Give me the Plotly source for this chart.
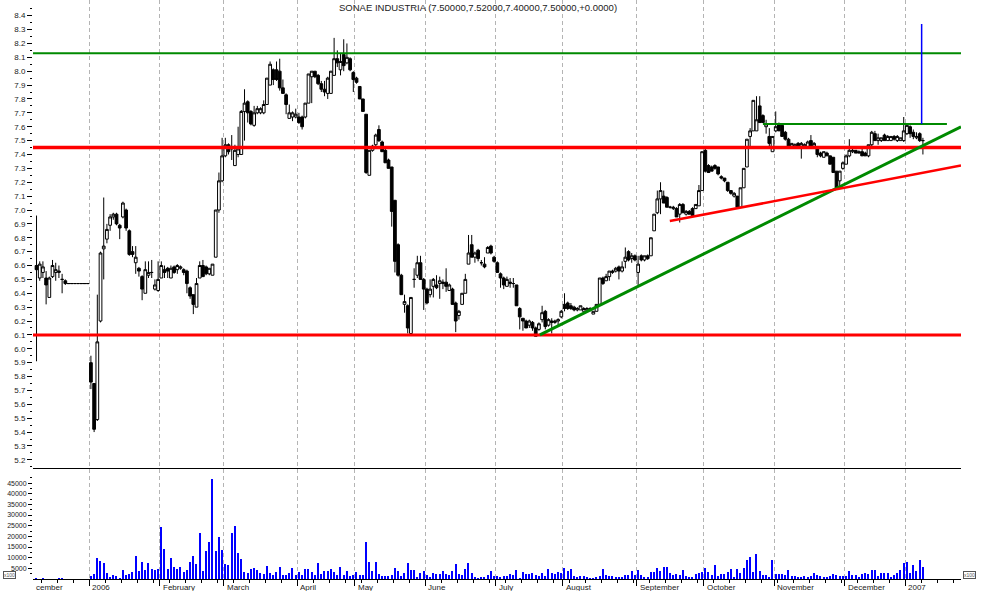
import plotly.graph_objects as go

# ---------------- data ----------------
month_labels = ["cember", "2006", "February", "March", "April", "May", "June",
                "July", "August", "September", "October", "November", "December", "2007"]
month_days = [17, 22, 20, 23, 18, 22, 22, 21, 23, 21, 22, 22, 19, 6]

open_ = [
    # Dec 2005
    6.60, 6.51, 6.55, 6.51, 6.37, 6.52, 6.55, 6.55, 6.50, 6.49, 6.47, 6.47, 6.47, 6.47, 6.47, 6.47, 6.47,
    # Jan
    5.90, 5.75, 5.49, 6.20, 6.72, 6.79, 6.89, 6.95, 6.97, 6.89, 6.95, 7.00, 6.85, 6.70, 6.62, 6.58, 6.52, 6.40, 6.53, 6.55, 6.43, 6.42,
    # Feb
    6.51, 6.57, 6.58, 6.51, 6.59, 6.57, 6.58, 6.57, 6.56, 6.44, 6.39, 6.30, 6.51, 6.60, 6.59, 6.54, 6.53, 6.66, 7.00, 7.21,
    # Mar
    7.39, 7.47, 7.44, 7.32, 7.40, 7.40, 7.71, 7.78, 7.71, 7.61, 7.70, 7.70, 7.70, 7.76, 7.90, 8.01, 8.01, 8.00, 7.88, 7.83, 7.66, 7.67, 7.67,
    # Apr
    7.67, 7.67, 7.67, 7.77, 7.96, 8.00, 7.97, 7.91, 7.87, 7.84, 7.84, 7.97, 8.09, 8.01, 8.12, 8.06, 8.09, 7.99,
    # May
    7.95, 7.89, 7.80, 7.69, 7.25, 7.43, 7.47, 7.58, 7.49, 7.43, 7.36, 7.31, 7.07, 6.75, 6.53, 6.32, 6.31, 6.11, 6.50, 6.53, 6.62, 6.50,
    # Jun
    6.43, 6.39, 6.45, 6.46, 6.47, 6.47, 6.48, 6.42, 6.43, 6.33, 6.24, 6.32, 6.40, 6.61, 6.75, 6.66, 6.71, 6.62, 6.61, 6.69, 6.74, 6.66,
    # Jul
    6.62, 6.54, 6.51, 6.45, 6.47, 6.47, 6.46, 6.29, 6.22, 6.20, 6.17, 6.19, 6.15, 6.14, 6.21, 6.27, 6.17, 6.20, 6.19, 6.20, 6.23,
    # Aug
    6.32, 6.33, 6.31, 6.30, 6.28, 6.28, 6.27, 6.28, 6.28, 6.25, 6.27, 6.32, 6.51, 6.49, 6.52, 6.55, 6.56, 6.59, 6.56, 6.63, 6.70, 6.65, 6.67,
    # Sep
    6.55, 6.67, 6.64, 6.67, 6.67, 6.85, 6.98, 7.08, 7.10, 7.09, 7.02, 7.01, 7.01, 6.97, 7.04, 6.97, 6.99, 7.01, 7.01, 7.03, 7.14,
    # Oct
    7.43, 7.32, 7.31, 7.32, 7.31, 7.24, 7.23, 7.20, 7.14, 7.10, 7.10, 7.02, 7.16, 7.31, 7.53, 7.57, 7.57, 7.75, 7.68, 7.60, 7.53, 7.42,
    # Nov
    7.57, 7.62, 7.61, 7.56, 7.51, 7.46, 7.46, 7.48, 7.46, 7.46, 7.45, 7.50, 7.46, 7.45, 7.41, 7.38, 7.41, 7.39, 7.38, 7.28, 7.21, 7.30,
    # Dec
    7.33, 7.39, 7.42, 7.43, 7.42, 7.42, 7.41, 7.39, 7.47, 7.55, 7.50, 7.50, 7.54, 7.50, 7.50, 7.53, 7.50, 7.50, 7.50,
    # Jan 2007
    7.55, 7.60, 7.56, 7.52, 7.55, 7.50,
]

high = [
    6.96, 6.63, 6.63, 6.56, 6.52, 6.64, 6.62, 6.60, 6.54, 6.50, 6.47, 6.47, 6.47, 6.47, 6.47, 6.47, 6.47,
    5.95, 5.75, 6.39, 6.70, 7.09, 6.90, 6.97, 6.98, 6.98, 6.90, 7.06, 7.01, 6.86, 6.74, 6.74, 6.59, 6.53, 6.63, 6.63, 6.64, 6.50, 6.63,
    6.63, 6.60, 6.59, 6.60, 6.60, 6.61, 6.60, 6.58, 6.57, 6.45, 6.39, 6.51, 6.63, 6.64, 6.60, 6.58, 6.61, 7.00, 7.27, 7.52,
    7.52, 7.48, 7.54, 7.47, 7.60, 7.72, 7.87, 7.79, 7.72, 7.75, 7.75, 7.74, 7.79, 7.95, 8.07, 8.02, 8.07, 8.09, 7.94, 7.84, 7.76, 7.71, 7.73,
    7.70, 7.68, 7.77, 7.98, 8.00, 8.00, 7.98, 7.93, 7.93, 7.96, 8.00, 8.24, 8.15, 8.13, 8.23, 8.20, 8.10, 8.00,
    7.96, 7.89, 7.80, 7.69, 7.43, 7.47, 7.55, 7.61, 7.50, 7.44, 7.37, 7.31, 7.07, 6.76, 6.54, 6.39, 6.32, 6.37, 6.58, 6.67, 6.67, 6.51,
    6.44, 6.50, 6.51, 6.53, 6.52, 6.50, 6.58, 6.47, 6.44, 6.34, 6.28, 6.40, 6.54, 6.82, 6.82, 6.70, 6.72, 6.64, 6.66, 6.74, 6.75, 6.67,
    6.63, 6.55, 6.52, 6.52, 6.51, 6.51, 6.46, 6.30, 6.22, 6.21, 6.21, 6.20, 6.16, 6.19, 6.31, 6.28, 6.22, 6.22, 6.21, 6.22, 6.28,
    6.40, 6.34, 6.33, 6.31, 6.30, 6.31, 6.30, 6.30, 6.30, 6.27, 6.32, 6.51, 6.52, 6.54, 6.56, 6.57, 6.59, 6.60, 6.63, 6.73, 6.71, 6.69, 6.68,
    6.67, 6.68, 6.67, 6.68, 6.80, 6.97, 7.14, 7.20, 7.14, 7.10, 7.03, 7.03, 7.02, 7.05, 7.05, 7.00, 7.00, 7.02, 7.04, 7.18, 7.42,
    7.46, 7.33, 7.32, 7.33, 7.31, 7.25, 7.23, 7.20, 7.14, 7.13, 7.10, 7.16, 7.30, 7.51, 7.59, 7.79, 7.82, 7.82, 7.69, 7.65, 7.59, 7.53,
    7.71, 7.63, 7.62, 7.57, 7.52, 7.48, 7.48, 7.49, 7.49, 7.48, 7.50, 7.54, 7.49, 7.45, 7.42, 7.42, 7.42, 7.39, 7.38, 7.28, 7.28, 7.35,
    7.40, 7.51, 7.45, 7.43, 7.43, 7.44, 7.42, 7.47, 7.57, 7.57, 7.55, 7.52, 7.55, 7.54, 7.53, 7.54, 7.54, 7.52, 7.67,
    7.62, 7.61, 7.58, 7.56, 7.56, 7.52,
]

low = [
    5.91, 6.49, 6.51, 6.32, 6.37, 6.51, 6.49, 6.51, 6.40, 6.46, 6.47, 6.47, 6.47, 6.47, 6.47, 6.47, 6.47,
    5.71, 5.40, 5.48, 6.19, 6.50, 6.76, 6.85, 6.93, 6.89, 6.79, 6.94, 6.85, 6.67, 6.66, 6.54, 6.52, 6.35, 6.40, 6.51, 6.51, 6.42, 6.41,
    6.51, 6.51, 6.51, 6.51, 6.54, 6.54, 6.57, 6.53, 6.40, 6.36, 6.25, 6.30, 6.51, 6.52, 6.53, 6.53, 6.53, 6.66, 6.98, 7.20,
    7.38, 7.40, 7.36, 7.32, 7.38, 7.40, 7.50, 7.63, 7.61, 7.60, 7.69, 7.69, 7.69, 7.76, 7.90, 7.90, 7.93, 7.86, 7.84, 7.69, 7.66, 7.64, 7.66,
    7.62, 7.58, 7.66, 7.77, 7.77, 7.95, 7.90, 7.85, 7.82, 7.80, 7.84, 7.97, 8.03, 7.97, 8.00, 8.05, 8.00, 7.85,
    7.91, 7.80, 7.71, 7.26, 7.25, 7.42, 7.46, 7.49, 7.42, 7.34, 7.30, 6.88, 6.55, 6.52, 6.39, 6.26, 6.11, 6.10, 6.44, 6.51, 6.50, 6.28,
    6.32, 6.37, 6.37, 6.43, 6.36, 6.43, 6.41, 6.42, 6.32, 6.12, 6.21, 6.32, 6.40, 6.61, 6.66, 6.62, 6.63, 6.60, 6.58, 6.69, 6.68, 6.62,
    6.55, 6.44, 6.43, 6.45, 6.44, 6.44, 6.31, 6.14, 6.13, 6.15, 6.15, 6.13, 6.09, 6.13, 6.19, 6.14, 6.16, 6.11, 6.18, 6.17, 6.22,
    6.27, 6.28, 6.28, 6.27, 6.27, 6.28, 6.27, 6.27, 6.27, 6.25, 6.27, 6.32, 6.46, 6.49, 6.49, 6.54, 6.55, 6.50, 6.55, 6.58, 6.63, 6.62, 6.63,
    6.46, 6.63, 6.63, 6.64, 6.67, 6.85, 6.97, 6.97, 7.05, 7.02, 7.01, 7.00, 6.95, 6.91, 6.98, 6.96, 6.97, 6.96, 7.01, 7.03, 7.14,
    7.27, 7.27, 7.28, 7.29, 7.25, 7.22, 7.20, 7.13, 7.11, 7.09, 7.02, 7.02, 7.16, 7.31, 7.45, 7.57, 7.57, 7.63, 7.63, 7.55, 7.46, 7.42,
    7.56, 7.57, 7.53, 7.50, 7.46, 7.45, 7.45, 7.45, 7.37, 7.45, 7.44, 7.44, 7.45, 7.38, 7.38, 7.38, 7.39, 7.33, 7.27, 7.16, 7.16, 7.29,
    7.33, 7.38, 7.41, 7.41, 7.41, 7.39, 7.39, 7.38, 7.46, 7.50, 7.47, 7.49, 7.50, 7.50, 7.50, 7.50, 7.49, 7.50, 7.49,
    7.54, 7.52, 7.51, 7.51, 7.49, 7.40,
]

close = [
    6.57, 6.61, 6.59, 6.46, 6.51, 6.60, 6.57, 6.56, 6.50, 6.47, 6.47, 6.47, 6.47, 6.47, 6.47, 6.47, 6.47,
    5.76, 5.42, 6.05, 6.69, 6.74, 6.86, 6.95, 6.97, 6.90, 6.87, 7.05, 6.87, 6.68, 6.68, 6.66, 6.56, 6.43, 6.57, 6.55, 6.55, 6.46, 6.50,
    6.60, 6.55, 6.56, 6.58, 6.55, 6.60, 6.59, 6.55, 6.47, 6.38, 6.32, 6.47, 6.60, 6.52, 6.54, 6.58, 6.61, 7.00, 7.21, 7.39,
    7.47, 7.42, 7.45, 7.43, 7.44, 7.71, 7.77, 7.70, 7.62, 7.70, 7.73, 7.73, 7.76, 7.95, 8.05, 7.94, 7.94, 7.88, 7.84, 7.76, 7.70, 7.70, 7.69,
    7.63, 7.60, 7.77, 7.98, 8.00, 7.96, 7.91, 7.87, 7.85, 7.95, 8.00, 8.09, 8.06, 8.07, 8.04, 8.10, 8.01, 7.94,
    7.92, 7.80, 7.71, 7.27, 7.43, 7.46, 7.54, 7.50, 7.42, 7.34, 7.30, 6.99, 6.63, 6.53, 6.39, 6.34, 6.15, 6.37, 6.50, 6.62, 6.50, 6.43,
    6.33, 6.43, 6.50, 6.44, 6.49, 6.48, 6.45, 6.46, 6.32, 6.20, 6.27, 6.40, 6.50, 6.69, 6.66, 6.69, 6.65, 6.62, 6.59, 6.73, 6.69, 6.63,
    6.55, 6.51, 6.46, 6.50, 6.48, 6.47, 6.31, 6.23, 6.20, 6.15, 6.20, 6.15, 6.09, 6.18, 6.26, 6.16, 6.21, 6.19, 6.20, 6.21, 6.27,
    6.29, 6.29, 6.29, 6.28, 6.29, 6.31, 6.29, 6.29, 6.29, 6.27, 6.32, 6.51, 6.47, 6.52, 6.56, 6.56, 6.58, 6.56, 6.59, 6.66, 6.64, 6.67, 6.64,
    6.61, 6.64, 6.67, 6.65, 6.80, 6.97, 7.08, 7.14, 7.05, 7.02, 7.02, 7.02, 6.95, 7.04, 6.98, 6.99, 6.97, 6.96, 7.04, 7.14, 7.42,
    7.28, 7.27, 7.28, 7.30, 7.26, 7.23, 7.21, 7.14, 7.12, 7.12, 7.02, 7.16, 7.30, 7.51, 7.57, 7.79, 7.65, 7.63, 7.63, 7.62, 7.48, 7.53,
    7.60, 7.57, 7.53, 7.51, 7.46, 7.48, 7.47, 7.46, 7.48, 7.47, 7.49, 7.46, 7.48, 7.40, 7.39, 7.42, 7.39, 7.33, 7.27, 7.16, 7.28, 7.34,
    7.39, 7.43, 7.43, 7.41, 7.41, 7.39, 7.39, 7.47, 7.56, 7.50, 7.52, 7.52, 7.50, 7.53, 7.53, 7.51, 7.53, 7.52, 7.57,
    7.61, 7.55, 7.53, 7.53, 7.50, 7.50,
]

volume = [
    # Dec 2005
    600, 0, 500, 0, 0, 0, 0, 500, 600, 0, 0, 0, 0, 0, 0, 0, 0,
    # Jan
    1400, 2200, 9800, 8500, 7400, 2800, 900, 1900, 1500, 500, 4000, 2000, 2300, 3300, 10700, 3700, 7900, 4300, 7400, 4600, 4300, 4600,
    # Feb
    24600, 14000, 4600, 9800, 5600, 4600, 5600, 3300, 4200, 7900, 10700, 7000, 21800, 3700, 13000, 17200, 47100, 13000, 19500, 13500,
    # Mar
    7000, 6500, 21800, 25100, 12100, 9300, 3300, 2800, 4600, 5100, 4200, 2800, 2300, 6000, 2800, 1900, 3300, 5600, 1900, 1900, 2800, 5100, 1900,
    # Apr
    3300, 1900, 4600, 4600, 3300, 1900, 7400, 2300, 3700, 3700, 4600, 3300, 1900, 5600, 1900, 3700, 1400, 1900,
    # May
    3300, 1900, 1900, 17200, 7900, 3700, 7900, 2300, 1400, 1400, 1400, 1900, 5100, 3700, 1400, 2800, 7400, 4200, 4200, 900, 2800, 3700,
    # Jun
    1900, 900, 2800, 2300, 2300, 3700, 2300, 1900, 3700, 7000, 2300, 1900, 4600, 7400, 2800, 900, 500, 900, 900, 1900, 3700, 1400,
    # Jul
    1400, 900, 1400, 1400, 2300, 1900, 4200, 500, 3300, 2300, 2300, 2800, 1900, 1400, 2800, 1400, 4600, 2800, 2300, 3300, 2800,
    # Aug
    5100, 3700, 4600, 1400, 900, 1400, 1400, 900, 500, 200, 900, 1400, 4600, 1900, 1400, 1400, 900, 900, 900, 1900, 1900, 3700, 1900,
    # Sep
    4200, 1900, 900, 900, 3300, 3300, 5100, 3700, 5600, 5600, 2800, 1900, 2300, 1900, 4200, 1400, 900, 900, 2300, 2800, 3300,
    # Oct
    5100, 3300, 1900, 6500, 1400, 2300, 2300, 3300, 4600, 900, 4600, 2800, 5100, 8800, 10200, 3300, 11600, 3700, 1900, 1900, 900, 8800,
    # Nov
    2300, 2300, 2300, 1900, 4200, 1400, 1400, 900, 900, 1400, 900, 1400, 2800, 1900, 1400, 900, 900, 1400, 2300, 1900, 1400, 1400,
    # Dec
    1400, 3700, 1900, 1900, 900, 2300, 2800, 2300, 4200, 4200, 1400, 2800, 2800, 2800, 900, 1900, 2800, 4200, 7400,
    # Jan 2007
    7900, 2800, 6500, 3700, 8800, 5600,
]

# horizontal support / resistance levels and drawn trend lines (trading-day index, price)
level_green = 8.13
level_red_upper = 7.45
level_red_lower = 6.10
trend_green_x, trend_green_y = [157.3, 288.9], [6.10, 7.60]
trend_red_x, trend_red_y = [197.9, 288.9], [6.92, 7.32]
short_green_x, short_green_y = [227.0, 284.5], [7.62, 7.62]
spike_x, spike_y = [276.6, 276.6], [8.34, 7.62]

title_text = "SONAE INDUSTRIA (7.50000,7.52000,7.40000,7.50000,+0.0000)"

price_ticks = [round(5.2 + 0.1 * k, 1) for k in range(33)]
volume_ticks = [5000, 10000, 15000, 20000, 25000, 30000, 35000, 40000, 45000]

# ---------------- derived ----------------
n = len(close)
assert len(open_) == n and len(high) == n and len(low) == n and len(volume) == n, (len(open_), len(high), len(low), len(close), len(volume))
assert sum(month_days) == n, (sum(month_days), n)
x = list(range(n))

starts = []
s = 0
for d in month_days:
    starts.append(s)
    s += d
bounds = [st - 0.5 for st in starts[1:]]

XR = [-1.1, 288.9]
FONT = "Liberation Sans, Arial, sans-serif"

fig = go.Figure()
fig.add_trace(go.Candlestick(
    x=x, open=open_, high=high, low=low, close=close,
    xaxis="x", yaxis="y", whiskerwidth=0,
    increasing=dict(line=dict(color="black", width=1), fillcolor="white"),
    decreasing=dict(line=dict(color="black", width=1), fillcolor="black"),
    hoverinfo="skip", showlegend=False,
))
fig.add_trace(go.Bar(
    x=x, y=volume, xaxis="x2", yaxis="y2", width=0.42,
    marker=dict(color="#0000ff", line=dict(width=0)),
    hoverinfo="skip", showlegend=False,
))

def line_trace(xs, ys, color, width):
    return go.Scatter(x=xs, y=ys, mode="lines", xaxis="x", yaxis="y",
                      line=dict(color=color, width=width), hoverinfo="skip", showlegend=False)

fig.add_trace(line_trace(XR, [level_green, level_green], "#008a00", 2))
fig.add_trace(line_trace(XR, [level_red_upper, level_red_upper], "#ff0000", 3.5))
fig.add_trace(line_trace(XR, [level_red_lower, level_red_lower], "#ff0000", 3))
fig.add_trace(line_trace(trend_green_x, trend_green_y, "#008a00", 3))
fig.add_trace(line_trace(trend_red_x, trend_red_y, "#ff0000", 2.5))
fig.add_trace(line_trace(short_green_x, short_green_y, "#008a00", 2))
fig.add_trace(line_trace(spike_x, spike_y, "#0000ff", 1.5))

grid = dict(showgrid=True, gridcolor="#b4b4b4", gridwidth=1, griddash="4px,3px")
tickfont = dict(family=FONT, size=8, color="#222222")
vfont = dict(family=FONT, size=7, color="#222222")

annotations = [dict(text=title_text, xref="paper", yref="paper", x=0.4795, y=1,
                    xanchor="center", yanchor="middle", yshift=-7, showarrow=False,
                    font=dict(family=FONT, size=9.5, color="#222222"))]
label_pos = [XR[0]] + bounds
for lab, pos in zip(month_labels, label_pos):
    annotations.append(dict(text=lab, xref="x2", yref="paper", x=pos, y=0,
                            xanchor="left", yanchor="middle", yshift=-8, xshift=1,
                            showarrow=False, font=dict(family=FONT, size=8, color="#222222")))
for px in (-0.0327, 1.0025):
    annotations.append(dict(text="x100", xref="paper", yref="paper", x=px, y=0.0069,
                            xanchor="left", yanchor="middle", showarrow=False,
                            bordercolor="#555555", borderwidth=1, borderpad=0,
                            font=dict(family=FONT, size=5, color="#555555")))

fig.update_layout(
    width=994, height=591, template="none",
    margin=dict(l=33, r=33, t=0, b=12),
    paper_bgcolor="white", plot_bgcolor="white",
    showlegend=False, boxgap=0.15, boxgroupgap=0, bargap=0,
    annotations=annotations,
    xaxis=dict(domain=[0, 1], anchor="y", range=XR, tickmode="array", tickvals=bounds,
               showticklabels=False, ticks="", zeroline=False, showline=False,
               rangeslider=dict(visible=False), automargin=False, **grid),
    xaxis2=dict(domain=[0, 1], anchor="y2", range=XR, tickmode="array", tickvals=bounds,
                showticklabels=False, ticks="outside", ticklen=6, tickcolor="black",
                zeroline=False, showline=True, linecolor="black", linewidth=1, mirror=True,
                minor=dict(tickmode="linear", tick0=16.5, dtick=5, ticks="outside", ticklen=3,
                           tickcolor="black", showgrid=False),
                automargin=False, **grid),
    yaxis=dict(domain=[0.19, 1], anchor="x", range=[5.134, 8.513], tickmode="array",
               tickvals=price_ticks, ticktext=[f"{v:.1f}" for v in price_ticks],
               ticks="outside", ticklen=5, tickcolor="black", tickfont=tickfont,
               minor=dict(tickmode="linear", tick0=5.15, dtick=0.1, ticks="outside", ticklen=2,
                          tickcolor="black", showgrid=False),
               showgrid=False, zeroline=False, showline=False, automargin=False),
    yaxis3=dict(overlaying="y", side="right", anchor="x", range=[5.134, 8.513], tickmode="array",
                tickvals=price_ticks, ticktext=[f"{v:.1f}" for v in price_ticks],
                ticks="outside", ticklen=5, tickcolor="black", tickfont=tickfont,
                minor=dict(tickmode="linear", tick0=5.15, dtick=0.1, ticks="outside", ticklen=2,
                           tickcolor="black", showgrid=False),
                showgrid=False, zeroline=False, showline=True, linecolor="black", automargin=False),
    yaxis2=dict(domain=[0, 0.19], anchor="x2", range=[0, 51600], tickmode="array",
                tickvals=volume_ticks, ticktext=[str(v) for v in volume_ticks],
                ticks="outside", ticklen=4, tickcolor="black", tickfont=vfont,
                minor=dict(tickmode="linear", tick0=2500, dtick=5000, ticks="outside", ticklen=2,
                           tickcolor="black", showgrid=False),
                showgrid=False, zeroline=False, showline=False, automargin=False),
    yaxis4=dict(overlaying="y2", side="right", anchor="x2", range=[0, 51600], tickmode="array",
                tickvals=volume_ticks, ticktext=[str(v) for v in volume_ticks],
                ticks="outside", ticklen=4, tickcolor="black", tickfont=vfont,
                minor=dict(tickmode="linear", tick0=2500, dtick=5000, ticks="outside", ticklen=2,
                           tickcolor="black", showgrid=False),
                showgrid=False, zeroline=False, showline=True, linecolor="black", automargin=False),
)

fig.write_html("out.html", config={"displayModeBar": False},
               post_script="document.body.style.margin='0';document.body.style.overflow='hidden';")
